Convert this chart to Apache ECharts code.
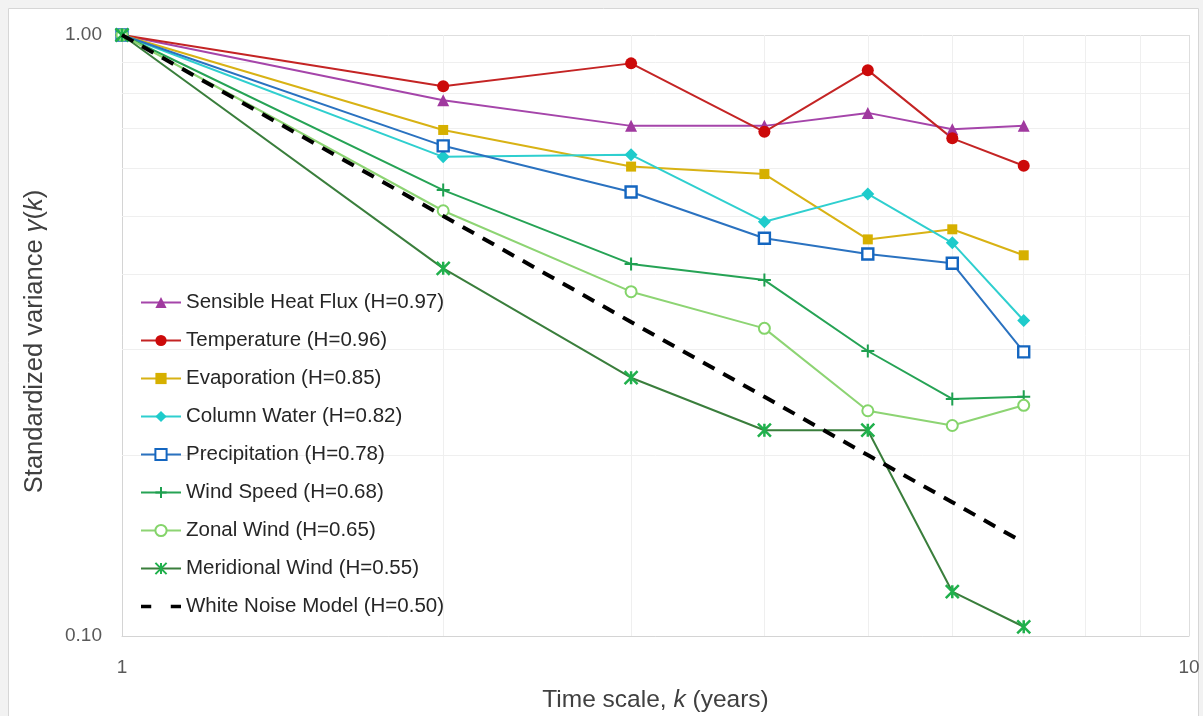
<!DOCTYPE html>
<html><head><meta charset="utf-8">
<script src="https://cdn.jsdelivr.net/npm/echarts@6/dist/echarts.min.js"></script>
<style>html,body{margin:0;padding:0;background:#f2f2f2;overflow:hidden}#c{width:1203px;height:716px;}</style>
</head><body><div id="c"></div>
<script>
const kValues = [1, 2, 3, 4, 5, 6, 7];
const sensibleHeatFlux = [1.0, 0.779, 0.706, 0.706, 0.742, 0.697, 0.706];
const temperature      = [1.0, 0.822, 0.897, 0.690, 0.874, 0.673, 0.606];
const evaporation      = [1.0, 0.695, 0.604, 0.587, 0.457, 0.475, 0.430];
const columnWater      = [1.0, 0.627, 0.632, 0.489, 0.544, 0.451, 0.335];
const precipitation    = [1.0, 0.654, 0.548, 0.459, 0.432, 0.417, 0.297];
const windSpeed        = [1.0, 0.552, 0.416, 0.391, 0.298, 0.248, 0.250];
const zonalWind        = [1.0, 0.510, 0.374, 0.325, 0.237, 0.224, 0.242];
const meridionalWind   = [1.0, 0.409, 0.269, 0.220, 0.220, 0.1185, 0.1036];
const whiteNoise       = [1.0, 0.5, 0.333, 0.25, 0.2, 0.167, 0.143];
const xGridValues = [2, 3, 4, 5, 6, 7, 8, 9];
const yGridValues = [0.2, 0.3, 0.4, 0.5, 0.6, 0.7, 0.8, 0.9];
const seriesNames = [
  'Sensible Heat Flux (H=0.97)', 'Temperature (H=0.96)', 'Evaporation (H=0.85)',
  'Column Water (H=0.82)', 'Precipitation (H=0.78)', 'Wind Speed (H=0.68)',
  'Zonal Wind (H=0.65)', 'Meridional Wind (H=0.55)', 'White Noise Model (H=0.50)'
];

const pair = arr => kValues.map((k, i) => [k, arr[i]]);
const FONT = '"Liberation Sans", Arial, sans-serif';

function mk(name, data, line, sym, size, item) {
  return {
    name, type: 'line', data: pair(data), z: 3,
    symbol: sym, symbolSize: size,
    lineStyle: { color: line, width: 2 },
    itemStyle: item,
    emphasis: { disabled: true }, animation: false
  };
}

const series = [
  {
    name: 'grid-helper', type: 'line', data: [], z: 1, silent: true,
    markLine: {
      z: 1, silent: true, symbol: 'none', label: { show: false }, animation: false,
      lineStyle: { color: '#efefef', width: 1, type: 'solid' },
      emphasis: { disabled: true },
      data: xGridValues.map(v => ({ xAxis: v })).concat(yGridValues.map(v => ({ yAxis: v })))
    }
  },
  mk(seriesNames[0], sensibleHeatFlux, '#a545aa', 'triangle', 12, { color: '#a0399f' }),
  mk(seriesNames[1], temperature, '#c42424', 'circle', 12, { color: '#cc0a0a' }),
  mk(seriesNames[2], evaporation, '#d8b214', 'rect', 10, { color: '#d6b000' }),
  mk(seriesNames[3], columnWater, '#2fcfcf', 'diamond', 13, { color: '#1ecbcb' }),
  mk(seriesNames[4], precipitation, '#2a72c0', 'rect', 11, { color: '#ffffff', borderColor: '#1466c0', borderWidth: 2.4 }),
  mk(seriesNames[5], windSpeed, '#26a355', 'path://M5,0L5,10M0,5L10,5', 13, { color: '#1ea050', borderColor: '#1ea050', borderWidth: 2 }),
  mk(seriesNames[6], zonalWind, '#8dd473', 'circle', 11, { color: '#ffffff', borderColor: '#84d46a', borderWidth: 2 }),
  mk(seriesNames[7], meridionalWind, '#3a7e3c', 'path://M0,0L10,10M10,0L0,10M5,0L5,10', 13, { color: '#20b04c', borderColor: '#20b04c', borderWidth: 2.5 }),
  {
    name: seriesNames[8], type: 'line', data: pair(whiteNoise), z: 4,
    symbol: 'none', showSymbol: false,
    lineStyle: { color: '#000000', width: 4, type: [13, 10] },
    itemStyle: { color: '#000000' },
    emphasis: { disabled: true }, animation: false
  }
];

const legendData = seriesNames.map((n, i) => i === 8
  ? { name: n, icon: 'path://M0,0h11v4H0zM32,0h11v4H32z' }
  : { name: n });

const chart = echarts.init(document.getElementById('c'), null, { renderer: 'canvas' });
chart.setOption({
  animation: false,
  backgroundColor: 'transparent',
  graphic: [{
    type: 'rect', left: 8, top: 8, z: -10, silent: true,
    shape: { width: 1190, height: 720 },
    style: { fill: '#ffffff', stroke: '#d6d6d6', lineWidth: 1 }
  }],
  grid: { left: 122, top: 35, width: 1067, height: 601, outerBoundsMode: 'none', containLabel: false },
  legend: {
    data: legendData, orient: 'vertical', left: 135, top: 287,
    itemWidth: 40, itemHeight: 14, itemGap: 17,
    textStyle: { fontFamily: FONT, fontSize: 20.5, color: '#262626', lineHeight: 20 },
    backgroundColor: 'transparent'
  },
  xAxis: {
    type: 'log', logBase: 10, min: 1, max: 10,
    name: 'Time scale, {i|k} (years)', nameLocation: 'middle', nameGap: 52,
    nameTextStyle: {
      fontFamily: FONT, fontSize: 24.5, color: '#404040',
      rich: { i: { fontStyle: 'italic', fontFamily: FONT, fontSize: 24.5, color: '#404040' } }
    },
    axisLine: { show: true, lineStyle: { color: '#d4d4d4', width: 1 } },
    axisTick: { show: false },
    axisLabel: { fontFamily: FONT, fontSize: 19, color: '#595959', margin: 22, formatter: v => String(Math.round(v)) },
    splitLine: { show: true, lineStyle: { color: '#dedede', width: 1 } }
  },
  yAxis: {
    type: 'log', logBase: 10, min: 0.1, max: 1,
    name: 'Standardized variance {i|γ}({i|k})', nameLocation: 'middle', nameGap: 74,
    nameTextStyle: {
      fontFamily: FONT, fontSize: 25.5, color: '#404040', padding: [0, 12, 0, 0],
      rich: { i: { fontStyle: 'italic', fontFamily: FONT, fontSize: 25.5, color: '#404040' } }
    },
    axisLine: { show: true, lineStyle: { color: '#d4d4d4', width: 1 } },
    axisTick: { show: false },
    axisLabel: { fontFamily: FONT, fontSize: 19, color: '#595959', margin: 20, formatter: v => v.toFixed(2) },
    splitLine: { show: true, lineStyle: { color: '#dedede', width: 1 } }
  },
  series
});
</script></body></html>
